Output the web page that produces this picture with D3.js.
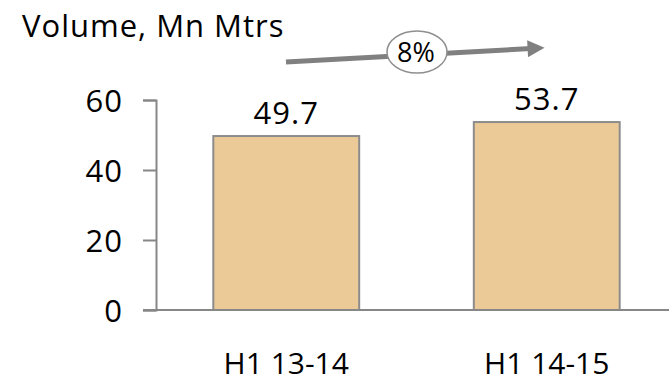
<!DOCTYPE html>
<html>
<head>
<meta charset="utf-8">
<script src="https://cdn.jsdelivr.net/npm/d3@7"></script>
<style>
  html, body { margin: 0; padding: 0; background: #fff; }
  svg { display: block; }
  text { font-family: "Open Sans", "Noto Sans", sans-serif; fill: #000; }
</style>
</head>
<body>
<svg id="chart" width="669" height="382"></svg>
<script>
const categories = ["H1 13-14", "H1 14-15"];
const values = [49.7, 53.7];
const valueLabels = ["49.7", "53.7"];
const yTicks = [0, 20, 40, 60];
const title = "Volume, Mn Mtrs";
const growthLabel = "8%";

const svg = d3.select("#chart");
const W = 669, H = 382;

const x = d3.scaleBand().domain(categories).range([156, 677])
  .paddingInner(0.44).paddingOuter(0.22);
const y = d3.scaleLinear().domain([0, 60]).range([310, 100]);

const axisColor = "#878787";

// y axis
const yAxis = d3.axisLeft(y).tickValues(yTicks).tickSize(13).tickPadding(20).tickFormat(d3.format("d"));
const gy = svg.append("g").attr("transform", "translate(156,0)").call(yAxis);
gy.select(".domain").attr("stroke", axisColor).attr("stroke-width", 2);
gy.selectAll(".tick line").attr("stroke", axisColor).attr("stroke-width", 2);
gy.selectAll(".tick text").attr("font-size", 31).attr("font-family", "Open Sans, sans-serif")
  .attr("letter-spacing", 1).attr("fill", "#000").attr("dy", "0.36em");

// bars
svg.selectAll("rect.bar").data(values).enter().append("rect")
  .attr("class", "bar")
  .attr("x", (d, i) => x(categories[i]))
  .attr("y", d => y(d))
  .attr("width", x.bandwidth())
  .attr("height", d => y(0) - y(d))
  .attr("fill", "#EBCA97")
  .attr("stroke", "#8C8C8C")
  .attr("stroke-width", 2);

// baseline
svg.append("line").attr("x1", 143).attr("x2", W).attr("y1", y(0)).attr("y2", y(0))
  .attr("stroke", axisColor).attr("stroke-width", 2);

// value labels
svg.selectAll("text.val").data(values).enter().append("text")
  .attr("class", "val")
  .attr("x", (d, i) => x(categories[i]) + x.bandwidth() / 2)
  .attr("y", d => y(d) - 12)
  .attr("text-anchor", "middle")
  .attr("font-size", 31)
  .attr("letter-spacing", 1)
  .text((d, i) => valueLabels[i]);

// category labels
svg.selectAll("text.cat").data(categories).enter().append("text")
  .attr("class", "cat")
  .attr("x", d => x(d) + x.bandwidth() / 2)
  .attr("y", 374)
  .attr("text-anchor", "middle")
  .attr("font-size", 30)
  .text(d => d);

// title
svg.append("text").attr("x", 22).attr("y", 37).attr("font-size", 31)
  .attr("letter-spacing", 1).text(title);

// growth arrow
const defs = svg.append("defs");
defs.append("marker").attr("id", "arrow").attr("viewBox", "0 0 10 10")
  .attr("refX", 2).attr("refY", 5).attr("markerWidth", 3.8).attr("markerHeight", 3.4)
  .attr("orient", "auto").attr("markerUnits", "strokeWidth")
  .append("path").attr("d", "M0,0 L10,5 L0,10 Z").attr("fill", "#808080");

svg.append("line").attr("x1", 286).attr("y1", 62).attr("x2", 531).attr("y2", 48.5)
  .attr("stroke", "#808080").attr("stroke-width", 5).attr("marker-end", "url(#arrow)");

svg.append("ellipse").attr("cx", 417).attr("cy", 52).attr("rx", 30).attr("ry", 21)
  .attr("fill", "#fff").attr("stroke", "#8f8f8f").attr("stroke-width", 1.5);
svg.append("text").attr("x", 416).attr("y", 62).attr("text-anchor", "middle")
  .attr("font-size", 27).text(growthLabel);
</script>
</body>
</html>
